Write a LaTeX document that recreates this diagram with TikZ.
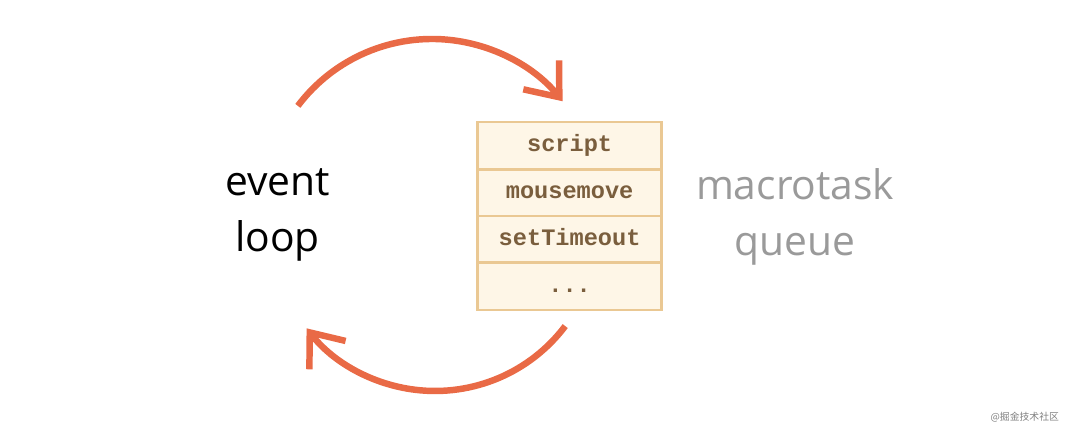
\documentclass[tikz,border=0pt]{standalone}
\usepackage{fontspec}
\usepackage{tikz}
\usepackage{xcolor}
\usetikzlibrary{arrows.meta}
\setmainfont{Open Sans}
\newfontfamily\codefont{Liberation Mono}
\newfontfamily\cjk{Noto Sans CJK SC}
\definecolor{loopred}{HTML}{E96A46}
\definecolor{queueline}{HTML}{EAC893}
\definecolor{queuefill}{HTML}{FEF6E7}
\definecolor{queuetext}{HTML}{7A5E3D}
\definecolor{labelgray}{HTML}{9A9A9A}

\begin{document}
\begin{tikzpicture}[
    flow/.style={line width=4.6pt, loopred, -{Straight Barb[sharp, length=0.72cm, width=1.15cm, line width=4.6pt]}},
    task/.style={draw=queueline, line width=2.1pt, fill=queuefill, minimum width=4.6cm, minimum height=1.18cm,
      text height=0.95em, text depth=0.1em, text=queuetext, font=\codefont\bfseries\fontsize{16.8}{20}\selectfont},
    bigtext/.style={align=center, font=\fontsize{29}{40}\selectfont}]
  \useasboundingbox (0,0) rectangle (27,10.8);
  % queue
  \node[task] (script) at (14.24,7.16) {script};
  \node[task] (mousemove) at (14.24,5.98) {mousemove};
  \node[task] (timeout) at (14.24,4.81) {setTimeout};
  \node[task] (more) at (14.24,3.64) {...};
  % labels
  \node[bigtext] (loop) at (6.94,5.42) {event\\loop};
  \node[bigtext, labelgray] (macro) at (19.88,5.38) {macrotask\\queue};
  % arrows
  \coordinate (loopout) at (7.446,8.153);
  \coordinate (queueout) at (14.13,2.648);
  \draw[flow] (loopout) arc[start angle=143, end angle=39, radius=4.2cm];
  \draw[flow] (queueout) arc[start angle=-37, end angle=-142, radius=4.075cm];
  % watermark
  \node[font=\cjk\fontsize{7}{8}\selectfont, gray] (mark) at (25.62,0.36) {@掘金技术社区};
\end{tikzpicture}
\end{document}
